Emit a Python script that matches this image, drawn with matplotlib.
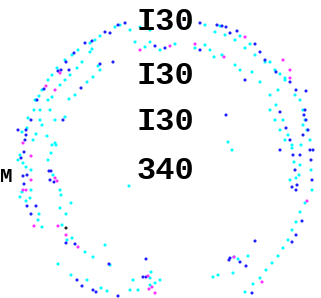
import matplotlib
matplotlib.use("Agg")
import matplotlib.pyplot as plt
import numpy as np

# dot positions (x, y in pixel units, y down)
cyan_pts = [
    (100, 36), (95, 40), (90, 43), (78, 50), (72, 55), (65, 60), (57, 68), (52, 75),
    (48, 80), (42, 90), (39, 96), (92, 49), (90, 52), (82, 62), (77, 68), (70, 75),
    (65, 80), (60, 85), (52, 97), (98, 66), (100, 70), (93, 77), (87, 82), (69, 99),
    (115, 27), (120, 25), (130, 30), (140, 27), (150, 30), (170, 27), (190, 23), (205, 25),
    (135, 42), (145, 47), (150, 42), (160, 50), (175, 44), (195, 48), (205, 45), (210, 50),
    (215, 32), (225, 35), (235, 40), (245, 48), (255, 55), (265, 62), (275, 70), (285, 78),
    (220, 26), (240, 36), (250, 44), (270, 62), (280, 74), (285, 80), (295, 95),
    (214, 57), (222, 55), (235, 65), (240, 70), (252, 72), (260, 82), (270, 95), (278, 90),
    (300, 100), (303, 110), (305, 120), (307, 130), (310, 140),
    (270, 110), (275, 120), (280, 130), (285, 140), (292, 145),
    (276, 105), (283, 120), (288, 135), (292, 148), (294, 162), (296, 178),
    (303, 125), (301, 145), (300, 165), (299, 175), (311, 170), (312, 190),
    (228, 142), (232, 150), (290, 180),
    (305, 203), (300, 212), (296, 222), (292, 230), (288, 240), (283, 248), (278, 256),
    (272, 263), (266, 270), (260, 278), (253, 284), (245, 292),
    (218, 275), (234, 257), (248, 256), (238, 259), (233, 273), (213, 277),
    (151, 272), (138, 290), (150, 285), (160, 280), (155, 283), (130, 290), (110, 265),
    (129, 186), (150, 278), (133, 280),
    (26, 201), (39, 214), (38, 220), (42, 227), (60, 208), (66, 214), (71, 203),
    (62, 225), (67, 240), (72, 238), (85, 252), (93, 257), (105, 245), (58, 264),
    (71, 275), (87, 280), (101, 288), (107, 291),
    (36, 100), (34, 110), (27, 128), (23, 163), (26, 167), (31, 170), (31, 190),
    (22, 192), (20, 197), (30, 198), (40, 110), (42, 125), (36, 134), (65, 117),
    (47, 136), (55, 143), (51, 153), (48, 160), (53, 175), (60, 190), (61, 195),
    (35, 100), (28, 118), (22, 132), (48, 100), (50, 110), (40, 120), (33, 140),
    (55, 120), (75, 95), (52, 145), (56, 145), (20, 155), (18, 160),
]
blue_pts = [
    (105, 32), (92, 41), (85, 43), (74, 53), (66, 62), (61, 70), (58, 71), (69, 70),
    (81, 88), (44, 89), (110, 33), (118, 25), (125, 23), (113, 62), (100, 64),
    (160, 28), (180, 24), (200, 23), (155, 46), (165, 48), (200, 50),
    (217, 25), (222, 26), (226, 27), (230, 33), (237, 31), (255, 44), (260, 52),
    (265, 60), (276, 72), (290, 82), (296, 90), (306, 91), (245, 80),
    (226, 115), (280, 150), (292, 187), (296, 190), (280, 112), (286, 128),
    (290, 140), (293, 155), (295, 170), (297, 185), (305, 110), (306, 120),
    (308, 130), (310, 150), (311, 160), (312, 180), (304, 115), (303, 135),
    (300, 155), (313, 150),
    (302, 221), (296, 235), (292, 242), (255, 241), (229, 260), (240, 262),
    (246, 266), (230, 258), (252, 293),
    (109, 264), (143, 277), (146, 277), (146, 259), (118, 296),
    (27, 206), (36, 206), (31, 214), (66, 243), (75, 244), (77, 280), (82, 286),
    (93, 290), (96, 292),
    (37, 100), (31, 120), (18, 130), (26, 130), (26, 135), (24, 152), (21, 158),
    (23, 176), (27, 175), (24, 184), (63, 120), (49, 171), (51, 171), (50, 180),
    (54, 182), (25, 140),
]
magenta_pts = [
    (60, 73), (55, 90), (46, 86), (245, 37), (224, 57), (290, 70), (283, 60),
    (290, 78), (234, 257), (262, 282), (307, 201), (148, 276), (152, 287),
    (155, 293), (149, 289), (34, 226), (58, 226), (66, 235), (78, 247),
    (23, 143), (31, 156), (31, 180), (23, 190), (55, 178), (57, 181), (26, 190),
    (140, 50), (170, 46), (195, 44),
]
black_pts = [(66, 228)]

labels = ["I30", "I30", "I30", "340"]
label_y = [22, 76, 122, 171]

fig = plt.figure(figsize=(3.21, 2.98), dpi=100)
ax = fig.add_axes([0, 0, 1, 1])
ax.set_xlim(0, 321)
ax.set_ylim(298, 0)
ax.axis("off")

for pts, c in [(cyan_pts, "#00ffff"), (blue_pts, "#2020ff"),
               (magenta_pts, "#ff30ff"), (black_pts, "#202020")]:
    xs, ys = zip(*pts)
    ax.scatter(xs, ys, s=5, color=c, edgecolors="none", zorder=2)

for t, y in zip(labels, label_y):
    ax.text(165, y, t, ha="center", va="center", fontsize=23,
            family="Liberation Mono", fontweight="bold", color="black", zorder=3)
ax.text(0, 176, "M", ha="left", va="center", fontsize=15,
        family="Liberation Mono", fontweight="bold", color="black", zorder=3)

fig.savefig("out.png", dpi=100)
